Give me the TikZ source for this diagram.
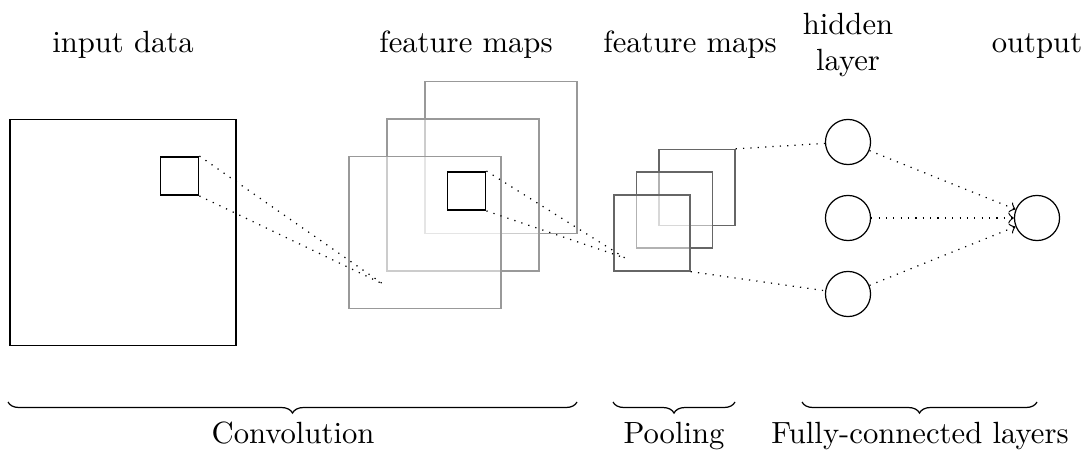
\documentclass[tikz,border=0pt]{standalone}
\usetikzlibrary{positioning,decorations.pathreplacing}

\begin{document}
\begin{tikzpicture}[x=0.326pt, y=-0.326pt, >=to,
  fmap/.style={draw=#1, fill=white, fill opacity=0.5, draw opacity=1, inner sep=0pt},
  patch/.style={draw, semithick, inner sep=0pt, minimum size=12.4pt},
  neuron/.style={circle, draw, inner sep=0pt, minimum size=14.7pt},
  lbl/.style={anchor=base, align=center},
  link/.style={dotted},
  grp/.style={decorate, decoration={brace, mirror, amplitude=3.6pt}}]
\useasboundingbox (0,0) rectangle (1091,458);
% input
\node[draw, inner sep=0pt, minimum size=73.7pt] (in) at (123,232.5) {};
\node[patch] (inpatch) at (179.5,176) {};
% convolution feature maps
\node[fmap=black!40, minimum size=49.6pt] (c3) at (501,157.5) {};
\node[fmap=black!40, minimum size=49.6pt] (c2) at (463,195) {};
\node[fmap=black!40, minimum size=49.6pt] (c1) at (425,232.5) {};
\node[patch] (cpatch) at (466.5,191) {};
% pooling feature maps
\node[fmap=black!60, minimum size=24.8pt] (p3) at (697,187.5) {};
\node[fmap=black!60, minimum size=24.8pt] (p2) at (674.5,210) {};
\node[fmap=black!60, minimum size=24.8pt] (p1) at (652,233) {};
% fully connected
\node[neuron] (h1) at (848,142) {};
\node[neuron] (h2) at (848,218) {};
\node[neuron] (h3) at (848,294) {};
\node[neuron] (out) at (1037,218) {};
\coordinate (cend) at (383,284);
\coordinate (pend) at (625,258);
\draw[link] (inpatch.north east) -- (cend);
\draw[link] (inpatch.south east) -- (cend);
\draw[link] (cpatch.north east) -- (pend);
\draw[link] (cpatch.south east) -- (pend);
\draw[link] (p3.north east) -- (h1);
\draw[link] (p1.south east) -- (h3);
\foreach \i in {1,2,3}
  \draw[link, ->] (h\i) -- (out);
% labels
\node[lbl] (tin) at (123,53) {input data};
\node[lbl] (tconv) at (466,53) {feature maps};
\node[lbl] (tpool) at (690,53) {feature maps};
\node[align=center] (thid) at (848,45) {hidden\\layer};
\node[lbl] (tout) at (1037,53) {output};
% groups
\coordinate (g1a) at (8,402); \coordinate (g1b) at (577,402);
\coordinate (g2a) at (613,402); \coordinate (g2b) at (735,402);
\coordinate (g3a) at (802,402); \coordinate (g3b) at (1037,402);
\draw[grp] (g1a) -- (g1b);
\draw[grp] (g2a) -- (g2b);
\draw[grp] (g3a) -- (g3b);
\node[lbl] (tg1) at (293,443) {Convolution};
\node[lbl] (tg2) at (674,443) {Pooling};
\node[lbl] (tg3) at (920,443) {Fully-connected layers};
\end{tikzpicture}
\end{document}
